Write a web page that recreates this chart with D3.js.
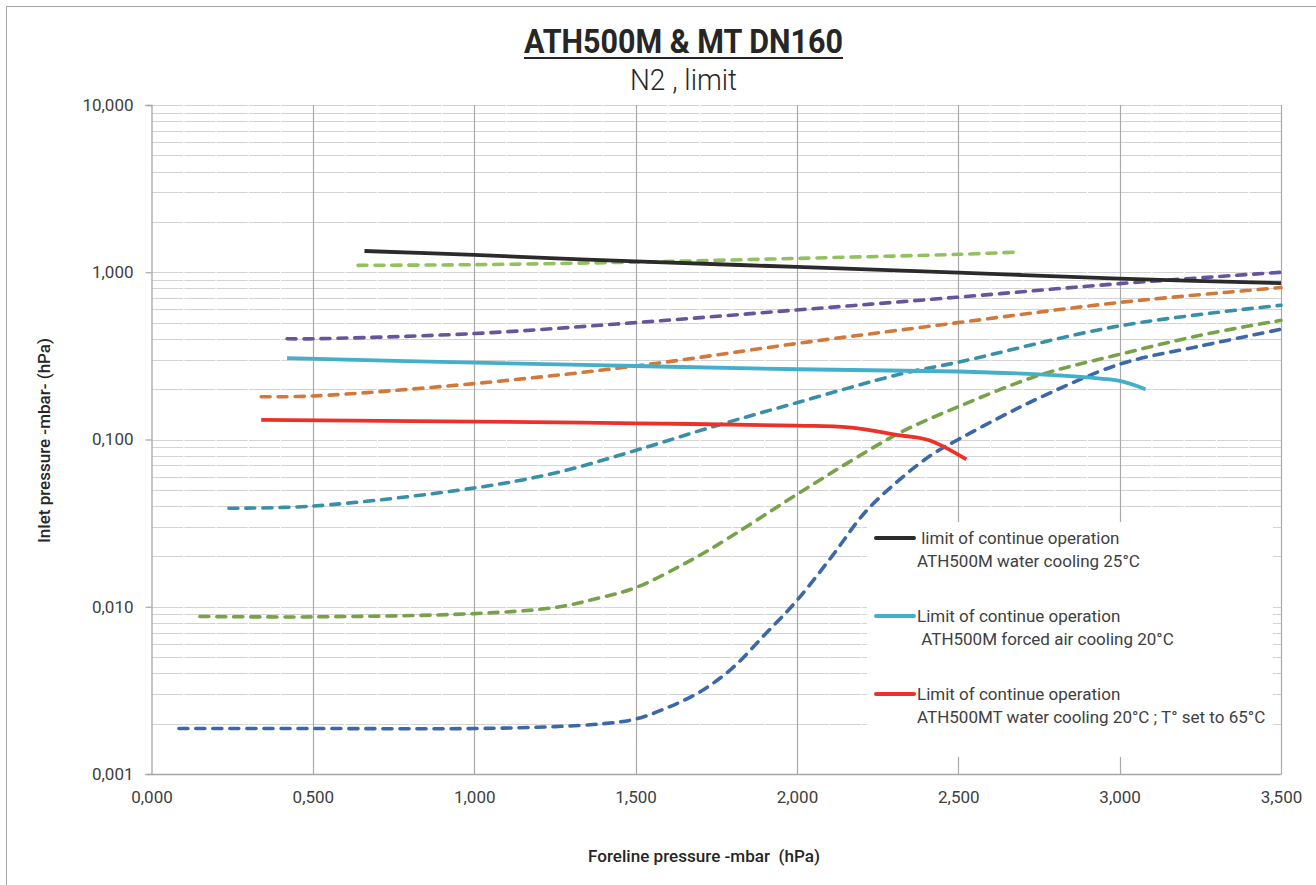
<!DOCTYPE html>
<html><head><meta charset="utf-8">
<script src="https://cdn.jsdelivr.net/npm/d3@7"></script>
<style>
body{margin:0;background:#fff;}
text{font-family:Roboto,"Open Sans",sans-serif;}
</style>
</head><body>
<svg id="chart" width="1316" height="885"></svg>
<script>
// ---- tick values & labels ----
const xTickValues = [0, 0.5, 1, 1.5, 2, 2.5, 3, 3.5];
const xTickLabels = ["0,000","0,500","1,000","1,500","2,000","2,500","3,000","3,500"];
const yTickValues = [0.001, 0.01, 0.1, 1, 10];
const yTickLabels = ["0,001","0,010","0,100","1,000","10,000"];

// ---- series data (foreline pressure, inlet pressure) ----
const waterCoolX = [0.66, 1.0, 1.5, 2.0, 2.5, 3.0, 3.5];
const waterCoolY = [1.34, 1.27, 1.16, 1.076, 0.995, 0.917, 0.86];

const airCoolX = [0.42, 1.0, 1.5, 2.0, 2.5, 2.75, 2.9, 3.0, 3.08];
const airCoolY = [0.307, 0.288, 0.275, 0.263, 0.255, 0.245, 0.235, 0.224, 0.20];

const mtCoolX = [0.34, 1.0, 1.5, 2.0, 2.16, 2.32, 2.41, 2.525];
const mtCoolY = [0.131, 0.128, 0.125, 0.121, 0.118, 0.106, 0.099, 0.076];

const lightGreenX = [0.64, 1.0, 1.5, 2.0, 2.5, 2.68];
const lightGreenY = [1.10, 1.11, 1.15, 1.21, 1.28, 1.32];

const purpleX = [0.42, 0.5, 1.0, 1.5, 2.0, 2.5, 3.0, 3.5];
const purpleY = [0.40, 0.40, 0.43, 0.50, 0.595, 0.71, 0.855, 1.0];

const orangeX = [0.34, 0.5, 1.0, 1.5, 2.0, 2.5, 3.0, 3.5];
const orangeY = [0.18, 0.182, 0.216, 0.275, 0.375, 0.50, 0.66, 0.81];

const tealX = [0.24, 0.5, 1.0, 1.25, 1.5, 1.75, 2.0, 2.32, 2.5, 3.0, 3.5];
const tealY = [0.0388, 0.040, 0.0513, 0.063, 0.086, 0.121, 0.166, 0.246, 0.29, 0.478, 0.635];

const oliveX = [0.15, 0.5, 1.0, 1.25, 1.38, 1.5, 1.64, 1.75, 2.0, 2.16, 2.32, 2.5, 2.75, 3.0, 3.25, 3.5];
const oliveY = [0.00875, 0.0087, 0.0091, 0.0099, 0.0112, 0.013, 0.0176, 0.0232, 0.047, 0.073, 0.11, 0.157, 0.242, 0.323, 0.42, 0.516];

const blueX = [0.085, 0.5, 1.0, 1.25, 1.4, 1.5, 1.6, 1.7, 1.8, 1.9, 2.0, 2.11, 2.21, 2.32, 2.42, 2.5, 2.63, 2.75, 3.0, 3.25, 3.5];
const blueY = [0.00187, 0.00187, 0.00187, 0.00192, 0.0020, 0.00213, 0.0025, 0.0031, 0.0043, 0.0068, 0.0109, 0.0202, 0.0365, 0.058, 0.0816, 0.10, 0.136, 0.177, 0.282, 0.362, 0.456];

const legendLabels = [
  [" limit of continue operation", "ATH500M water cooling 25°C"],
  ["Limit of continue operation", " ATH500M forced air cooling 20°C"],
  ["Limit of continue operation", "ATH500MT water cooling 20°C ; T° set to 65°C"]
];

// ---- series table ----
const zip = (xs, ys) => xs.map((x, i) => [x, ys[i]]);
const series = [
  {pts: zip(lightGreenX, lightGreenY), color: "#92c15f", dash: true},
  {pts: zip(purpleX, purpleY), color: "#67549a", dash: true},
  {pts: zip(orangeX, orangeY), color: "#d2783a", dash: true},
  {pts: zip(tealX, tealY), color: "#3790a8", dash: true},
  {pts: zip(oliveX, oliveY), color: "#77a24a", dash: true},
  {pts: zip(blueX, blueY), color: "#3d68a6", dash: true},
  {pts: zip(airCoolX, airCoolY), color: "#44afcb", dash: false},
  {pts: zip(mtCoolX, mtCoolY), color: "#ee3128", dash: false},
  {pts: zip(waterCoolX, waterCoolY), color: "#2b2b2b", dash: false}
];
const legendColors = ["#2b2b2b", "#44afcb", "#ee3128"];

// ---- layout ----
const svg = d3.select("#chart");
const L = 151.5, R = 1281, T = 105, B = 774;
const x = d3.scaleLinear().domain([0, 3.5]).range([L, R]);
const y = d3.scaleLog().domain([0.001, 10]).range([B, T]);

// outer border
svg.append("rect").attr("x", 6.5).attr("y", 6.5).attr("width", 1330).attr("height", 900)
  .attr("fill", "#fff").attr("stroke", "#a6a6a6").attr("stroke-width", 1);

// horizontal gridlines (1..9 per decade)
const hVals = [];
for (let e = -3; e <= 0; e++) for (let k = 1; k <= 9; k++) hVals.push(k * Math.pow(10, e));
hVals.push(10);
const g = svg.append("g");
g.selectAll("line.h").data(hVals).enter().append("line")
  .attr("x1", L).attr("x2", R)
  .attr("y1", d => Math.round(y(d)) + 0.5).attr("y2", d => Math.round(y(d)) + 0.5)
  .attr("stroke", "#d3d3d3").attr("stroke-width", 1.2);

// small white gaps every 0.1
const gapVals = d3.range(1, 35).map(i => i / 10).filter(v => Math.abs(v * 2 - Math.round(v * 2)) > 1e-6);
g.selectAll("line.gap").data(gapVals).enter().append("line")
  .attr("x1", d => x(d)).attr("x2", d => x(d)).attr("y1", T).attr("y2", B - 1)
  .attr("stroke", "#fff").attr("stroke-width", 1.3);

// vertical major gridlines
g.selectAll("line.v").data(xTickValues.slice(1)).enter().append("line")
  .attr("x1", d => Math.round(x(d)) + 0.5).attr("x2", d => Math.round(x(d)) + 0.5)
  .attr("y1", T).attr("y2", B)
  .attr("stroke", "#a9a9a9").attr("stroke-width", 1.2);

// y axis
const yAxis = d3.axisLeft(y).tickValues(yTickValues)
  .tickFormat((d, i) => yTickLabels[i]).tickSize(6).tickPadding(12);
const ya = svg.append("g").attr("transform", `translate(${L},0)`).call(yAxis);
ya.select(".domain").attr("stroke", "#a6a6a6").attr("stroke-width", 1.3);
ya.selectAll(".tick line").attr("stroke", "#a6a6a6").attr("stroke-width", 1.2);
ya.selectAll(".tick text").attr("font-size", 17).attr("fill", "#404040")
  .style("font-family", "Roboto, sans-serif");

// x axis
const xAxis = d3.axisBottom(x).tickValues(xTickValues)
  .tickFormat((d, i) => xTickLabels[i]).tickSize(0).tickPadding(17);
const xa = svg.append("g").attr("transform", `translate(0,${B})`).call(xAxis);
xa.select(".domain").attr("stroke", "#a6a6a6").attr("stroke-width", 1.5);
xa.selectAll(".tick text").attr("font-size", 17).attr("fill", "#404040")
  .style("font-family", "Roboto, sans-serif");

// legend box (white fill hides gridlines)
svg.append("rect").attr("x", 867).attr("y", 522).attr("width", 406).attr("height", 235)
  .attr("fill", "#fff");

// series lines
const line = d3.line().x(d => x(d[0])).y(d => y(d[1])).curve(d3.curveCatmullRom.alpha(0.5));
svg.append("g").selectAll("path").data(series).enter().append("path")
  .attr("d", d => line(d.pts))
  .attr("fill", "none")
  .attr("stroke", d => d.color)
  .attr("stroke-width", d => d.dash ? 3.6 : 3.8)
  .attr("stroke-linecap", d => d.dash ? "round" : "butt")
  .attr("stroke-linejoin", "round")
  .attr("stroke-dasharray", d => d.dash ? "9,8" : null);

// legend
const leg = svg.append("g");
legendLabels.forEach((lab, i) => {
  const by = 544 + i * 78;
  leg.append("line").attr("x1", 876).attr("x2", 914).attr("y1", by - 6).attr("y2", by - 6)
    .attr("stroke", legendColors[i]).attr("stroke-width", 4).attr("stroke-linecap", "round");
  lab.forEach((t, j) => {
    leg.append("text").attr("x", 917).attr("y", by + j * 22.5)
      .attr("font-size", 17).attr("fill", "#404040").style("white-space", "pre").text(t);
  });
});

// titles
svg.append("text").attr("x", 683.5).attr("y", 53).attr("text-anchor", "middle")
  .attr("font-size", 33).attr("font-weight", "bold").attr("fill", "#262626")
  .attr("textLength", 319).attr("lengthAdjust", "spacingAndGlyphs")
  .text("ATH500M & MT DN160");
svg.append("line").attr("x1", 524).attr("x2", 843).attr("y1", 58).attr("y2", 58)
  .attr("stroke", "#262626").attr("stroke-width", 2.2);
svg.append("text").attr("x", 683.5).attr("y", 90).attr("text-anchor", "middle")
  .attr("font-size", 29).attr("font-weight", 300).attr("fill", "#262626")
  .attr("textLength", 107).attr("lengthAdjust", "spacingAndGlyphs")
  .text("N2 , limit");

// axis titles
svg.append("text").attr("x", 704).attr("y", 862).attr("text-anchor", "middle")
  .attr("font-size", 17).attr("font-weight", 500).attr("fill", "#262626")
  .style("white-space", "pre")
  .attr("textLength", 232).attr("lengthAdjust", "spacingAndGlyphs")
  .text("Foreline pressure -mbar  (hPa)");
svg.append("text").attr("transform", "translate(50,440.5) rotate(-90)").attr("text-anchor", "middle")
  .attr("font-size", 17).attr("font-weight", 500).attr("fill", "#262626")
  .attr("textLength", 205).attr("lengthAdjust", "spacingAndGlyphs")
  .text("Inlet pressure -mbar- (hPa)");
</script>
</body></html>
